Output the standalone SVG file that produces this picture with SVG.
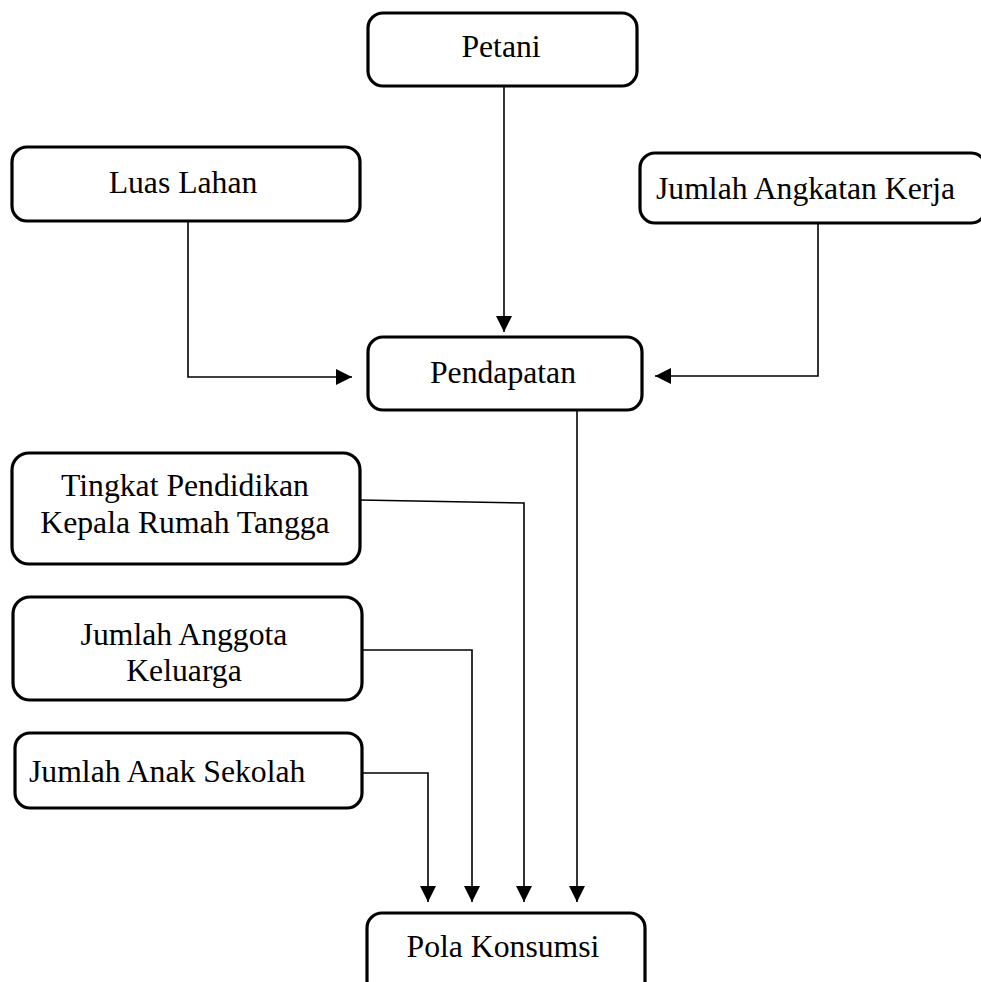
<svg xmlns="http://www.w3.org/2000/svg" width="981" height="982" viewBox="0 0 981 982">
<style>
.box{fill:#fff;stroke:#000;stroke-width:3.2}
.t{font-family:"Liberation Serif","Times New Roman",serif;font-size:31.7px;fill:#000}
.c{stroke:#000;stroke-width:1.6;fill:none}
</style>
<defs>
<marker id="ah" viewBox="0 0 16 16" refX="16" refY="8" markerWidth="16" markerHeight="16" markerUnits="userSpaceOnUse" orient="auto">
<path d="M0,0 L16,8 L0,16 Z" fill="#000"/>
</marker>
</defs>
<rect width="981" height="982" fill="#fff"/>
<g id="connectors">
<path class="c" d="M504,86 V332" marker-end="url(#ah)"/>
<path class="c" d="M188,221 V377 H352" marker-end="url(#ah)"/>
<path class="c" d="M818,223 V376 H655" marker-end="url(#ah)"/>
<path class="c" d="M577,410 V902" marker-end="url(#ah)"/>
<path class="c" d="M360,500 L524,503 V902" marker-end="url(#ah)"/>
<path class="c" d="M362,650 H472 V902" marker-end="url(#ah)"/>
<path class="c" d="M362,773 H428 V902" marker-end="url(#ah)"/>
</g>
<g id="petani">
<rect class="box" x="368" y="13" width="269" height="73" rx="15"/>
<text class="t" x="501" y="57" text-anchor="middle">Petani</text>
</g>
<g id="luas-lahan">
<rect class="box" x="12" y="147" width="348" height="74" rx="15"/>
<text class="t" x="183" y="193" text-anchor="middle">Luas Lahan</text>
</g>
<g id="jumlah-angkatan-kerja">
<rect class="box" x="640" y="153" width="346" height="70" rx="15"/>
<text class="t" x="656" y="199">Jumlah Angkatan Kerja</text>
</g>
<g id="pendapatan">
<rect class="box" x="368" y="337" width="274" height="73" rx="15"/>
<text class="t" x="503" y="383" text-anchor="middle">Pendapatan</text>
</g>
<g id="tingkat-pendidikan">
<rect class="box" x="12" y="453" width="348" height="111" rx="17"/>
<text class="t" x="185" y="496" text-anchor="middle">Tingkat Pendidikan</text>
<text class="t" x="185" y="533" text-anchor="middle">Kepala Rumah Tangga</text>
</g>
<g id="jumlah-anggota-keluarga">
<rect class="box" x="13" y="597" width="349" height="103" rx="17"/>
<text class="t" x="184" y="645" text-anchor="middle">Jumlah Anggota</text>
<text class="t" x="184" y="681" text-anchor="middle">Keluarga</text>
</g>
<g id="jumlah-anak-sekolah">
<rect class="box" x="15" y="733" width="347" height="75" rx="15"/>
<text class="t" x="29" y="782">Jumlah Anak Sekolah</text>
</g>
<g id="pola-konsumsi">
<rect class="box" x="367" y="913" width="278" height="85" rx="15"/>
<text class="t" x="503" y="957" text-anchor="middle">Pola Konsumsi</text>
</g>
</svg>
